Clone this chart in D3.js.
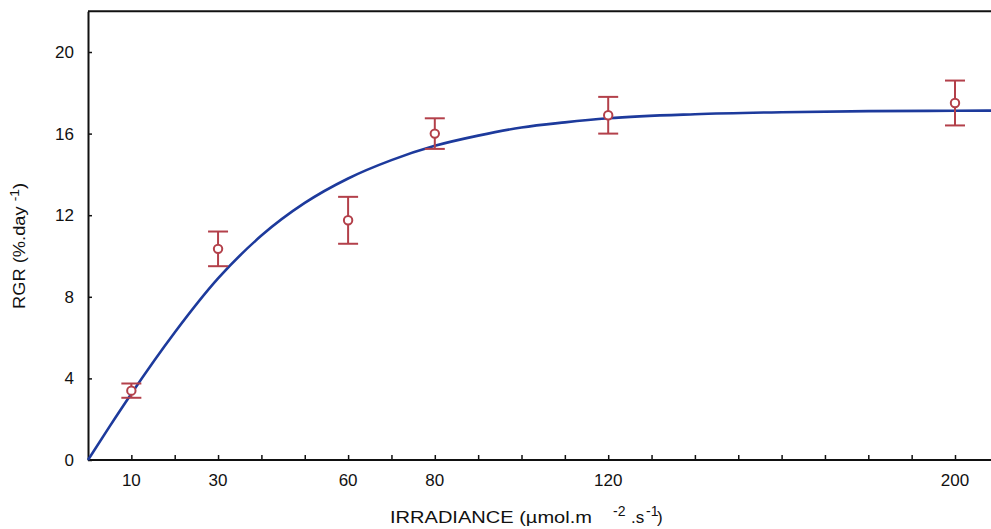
<!DOCTYPE html>
<html><head><meta charset="utf-8">
<script src="https://cdn.jsdelivr.net/npm/d3@7"></script>
<style>body{margin:0;background:#fff}svg{display:block}text{font-family:"Liberation Sans",Arial,sans-serif}</style>
</head><body>
<svg id="c" width="991" height="529"></svg>
<script>
const irradiance = [10, 30, 60, 80, 120, 200];
const rgrMean    = [3.4, 10.35, 11.75, 16.0, 16.9, 17.5];
const rgrErr     = [0.35, 0.85, 1.15, 0.75, 0.9, 1.1];
// Fitted curve, points
const curveX = [0, 5, 10, 20, 30, 40, 50, 60, 70, 80, 90, 100, 110, 120, 140, 160, 180, 200, 212];
const curveY = [0, 1.65, 3.25, 6.25, 8.9, 11.0, 12.6, 13.8, 14.7, 15.4, 15.9, 16.3, 16.55, 16.75, 16.95, 17.05, 17.1, 17.12, 17.13];
const xTickLabels = [10, 30, 60, 80, 120, 200];
const xMinorTicks = d3.range(10, 211, 10);
const yTickLabels = [0, 4, 8, 12, 16, 20];

const svg = d3.select("#c");
const x = d3.scaleLinear().domain([0, 210]).range([88, 88 + 210 * 4.335]);
const y = d3.scaleLinear().domain([0, 22]).range([460, 460 - 22 * 20.4]);

const red = "#b3404a", blue = "#1d3a9c";

// frame top
svg.append("line").attr("x1", x(0)).attr("x2", 991).attr("y1", y(22)).attr("y2", y(22))
  .attr("stroke", "#111").attr("stroke-width", 2);

// x axis
const xAxis = svg.append("g").attr("transform", `translate(0,${y(0)})`)
  .call(d3.axisBottom(x).tickValues(xMinorTicks).tickSizeInner(-5).tickSizeOuter(0).tickFormat(""));
xAxis.select(".domain").attr("stroke", "#111").attr("stroke-width", 2).attr("d", `M${x(0)},0H991`);
xAxis.selectAll(".tick line").attr("stroke", "#111").attr("stroke-width", 1.5);
svg.append("g").selectAll("text").data(xTickLabels).join("text")
  .attr("x", d => x(d)).attr("y", 486).attr("text-anchor", "middle")
  .attr("font-size", 17).attr("fill", "#111").text(d => d);

// y axis
const yAxis = svg.append("g").attr("transform", `translate(${x(0)},0)`)
  .call(d3.axisLeft(y).tickValues(yTickLabels).tickSizeInner(-4).tickSizeOuter(0).tickPadding(14).tickFormat(d3.format("d")));
yAxis.select(".domain").attr("stroke", "#111").attr("stroke-width", 2);
yAxis.selectAll(".tick line").attr("stroke", "#111").attr("stroke-width", 1.5);
yAxis.selectAll(".tick text").attr("font-size", 17).attr("fill", "#111")
  .attr("font-family", "'Liberation Sans',Arial,sans-serif");

// curve
const line = d3.line().x(d => x(d[0])).y(d => y(d[1])).curve(d3.curveMonotoneX);
svg.append("path").datum(d3.zip(curveX, curveY)).attr("d", line)
  .attr("fill", "none").attr("stroke", blue).attr("stroke-width", 2.6);

// error bars
const pts = irradiance.map((v, i) => ({x: v, m: rgrMean[i], e: rgrErr[i]}));
const g = svg.append("g").attr("stroke", red).attr("stroke-width", 2).attr("fill", "none");
pts.forEach(p => {
  const cx = x(p.x);
  g.append("line").attr("x1", cx).attr("x2", cx).attr("y1", y(p.m + p.e)).attr("y2", y(p.m - p.e));
  g.append("line").attr("x1", cx - 10).attr("x2", cx + 10).attr("y1", y(p.m + p.e)).attr("y2", y(p.m + p.e));
  g.append("line").attr("x1", cx - 10).attr("x2", cx + 10).attr("y1", y(p.m - p.e)).attr("y2", y(p.m - p.e));
  g.append("circle").attr("cx", cx).attr("cy", y(p.m)).attr("r", 4.2).attr("fill", "#fff");
});

// axis titles
const tstyle = s => s.attr("font-size", 17).attr("fill", "#111");
svg.append("text").attr("x", 390).attr("y", 523).attr("textLength", 202).attr("lengthAdjust", "spacingAndGlyphs")
  .call(tstyle).text("IRRADIANCE (µmol.m");
svg.append("text").attr("x", 613).attr("y", 516).attr("font-size", 14).attr("fill", "#111").text("-2");
svg.append("text").attr("x", 631).attr("y", 523).call(tstyle).text(".s");
svg.append("text").attr("x", 646).attr("y", 516).attr("font-size", 14).attr("fill", "#111").text("-1");
svg.append("text").attr("x", 657).attr("y", 523).call(tstyle).text(")");

const yt = svg.append("text").attr("transform", "translate(25,246) rotate(-90)").attr("text-anchor", "middle")
  .attr("font-size", 16).attr("fill", "#111").attr("textLength", 126).attr("lengthAdjust", "spacingAndGlyphs");
yt.append("tspan").text("RGR (%.day ");
yt.append("tspan").attr("dy", -6).attr("font-size", 12).text("-1");
yt.append("tspan").attr("dy", 6).text(")");
</script>
</body></html>
